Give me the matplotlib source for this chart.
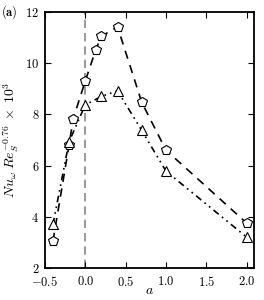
import matplotlib
matplotlib.use("Agg")
import matplotlib.pyplot as plt

plt.rcParams['font.family'] = 'serif'
plt.rcParams['font.serif'] = ['cmr10']
plt.rcParams['mathtext.fontset'] = 'cm'
plt.rcParams['axes.formatter.use_mathtext'] = True

# Data
a_pent = [-0.4, -0.2, -0.15, 0.0, 0.13, 0.2, 0.4, 0.7, 1.0, 2.0]
nu_pent = [3.05, 6.8, 7.82, 9.3, 10.52, 11.05, 11.42, 8.47, 6.6, 3.75]
a_tri = [-0.4, -0.2, 0.0, 0.2, 0.4, 0.7, 1.0, 2.0]
nu_tri = [3.7, 6.93, 8.37, 8.7, 8.92, 7.37, 5.78, 3.2]

xticks = [-0.5, 0.0, 0.5, 1.0, 1.5, 2.0]
yticks = [2, 4, 6, 8, 10, 12]

fig = plt.figure(figsize=(2.64, 3.0), dpi=100)
ax = fig.add_axes([0.170, 0.107, 0.792, 0.853])

ax.axvline(0.0, color='#888888', lw=1.2, ls=(0, (5, 3)), zorder=1)
ax.plot(a_pent, nu_pent, color='black', lw=1.2, ls=(0, (5, 4)),
        marker='p', markersize=7, markerfacecolor='white',
        markeredgecolor='black', markeredgewidth=0.8, zorder=3)
ax.plot(a_tri, nu_tri, color='black', lw=1.2, ls=(0, (4, 2.5, 1, 2.5, 1, 2.5)),
        marker='^', markersize=7, markerfacecolor='white',
        markeredgecolor='black', markeredgewidth=0.8, zorder=3)

ax.set_xlim(-0.5, 2.09)
ax.set_ylim(2, 12)
ax.set_xticks(xticks)
ax.set_yticks(yticks)
ax.tick_params(direction='in', top=True, right=True, labelsize=9, length=4, width=0.8)
ax.tick_params(axis='x', pad=5)
ax.tick_params(axis='y', pad=4)
for s in ax.spines.values():
    s.set_linewidth(1.3)

ax.set_xlabel(r'$a$', fontsize=10, labelpad=-3)
ax.set_ylabel(r'$Nu_{\omega}\;Re_S^{-0.76}\;\times\;10^3$', fontsize=10, labelpad=3)

fig.text(0.003, 0.99, r'$\mathbf{(a)}$', fontsize=9, va='top', ha='left')

fig.savefig('out.png', dpi=100)
